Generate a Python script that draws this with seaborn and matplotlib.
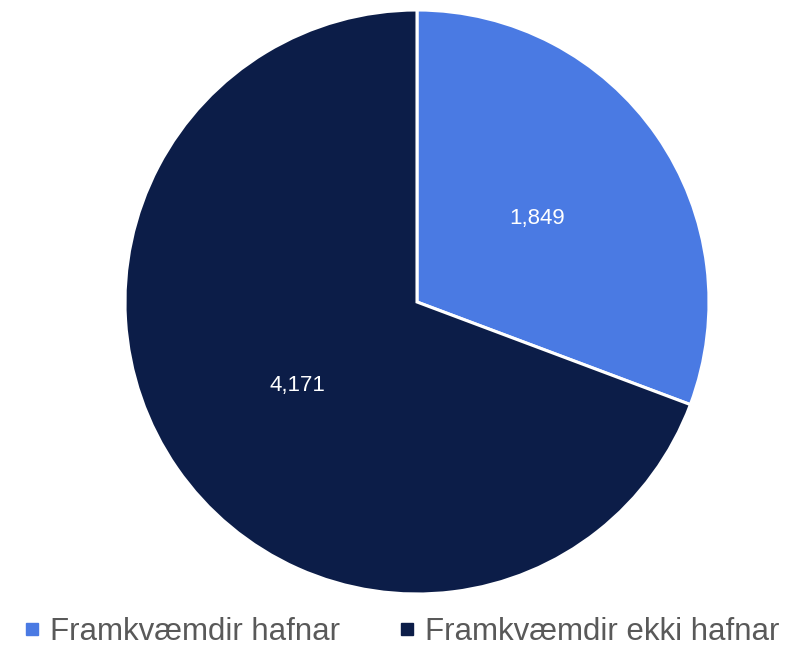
import matplotlib
matplotlib.use("Agg")
import matplotlib.pyplot as plt
from matplotlib.lines import Line2D
import seaborn as sns

labels = ["Framkvæmdir hafnar", "Framkvæmdir ekki hafnar"]
values = [1849, 4171]
colors = ["#4a7ae3", "#0c1d48"]

sns.set_theme(style="white")
plt.rcParams['font.family'] = ['Liberation Sans', 'DejaVu Sans']

W, H = 788, 650
fig = plt.figure(figsize=(W / 100, H / 100), dpi=100)
cx, cy, r = 417, 302, 292
ax = fig.add_axes([(cx - r) / W, (H - cy - r) / H, 2 * r / W, 2 * r / H])

wedges, texts, autotexts = ax.pie(
    values, colors=colors, startangle=90, counterclock=False,
    autopct=lambda p: f"{p * sum(values) / 100:,.0f}", pctdistance=0.5,
    wedgeprops=dict(edgecolor="white", linewidth=2.2),
    textprops=dict(color="white", fontsize=16))
ax.set_xlim(-1, 1)
ax.set_ylim(-1, 1)
ax.axis("off")

handles = [Line2D([], [], marker="s", linestyle="none", markersize=8.6,
                  markerfacecolor=c, markeredgecolor=c) for c in colors]
fig.legend(handles, labels, loc="center", bbox_to_anchor=(402 / W, 1 - 632 / H),
           ncol=2, frameon=False, fontsize=22.5, labelcolor="#595959",
           handlelength=0.5, handletextpad=0.32, columnspacing=1.9,
           borderpad=0, borderaxespad=0)

fig.savefig("out.png", dpi=100)
